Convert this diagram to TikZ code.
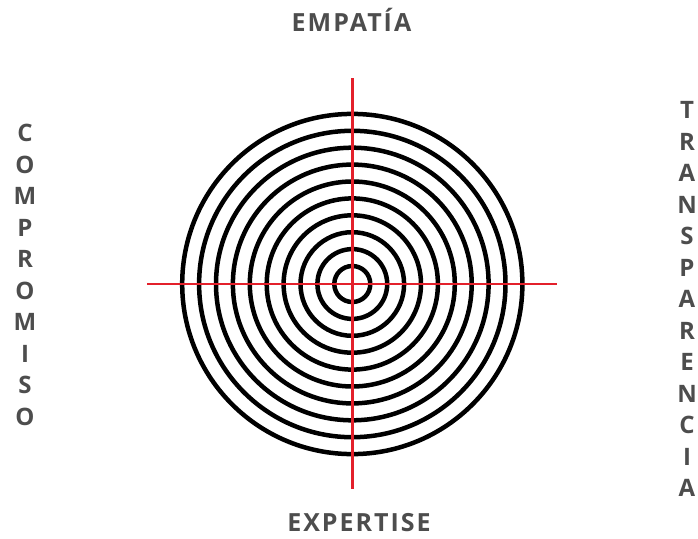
\documentclass[tikz,border=0pt]{standalone}
\usepackage{fontspec}
\setmainfont{Open Sans}
\newfontfamily\spacedfont[LetterSpace=8]{Open Sans}
\usetikzlibrary{positioning}
\definecolor{ink}{HTML}{4D4D4D}
\definecolor{aim}{HTML}{E3202B}
\tikzset{
  axislabel/.style={text=ink,font=\spacedfont\fontsize{25}{25}\selectfont\bfseries,inner sep=0pt},
  stacklabel/.style={text=ink,font=\fontsize{24}{31.5}\selectfont\bfseries,align=center,inner sep=0pt},
  ring/.style={draw=black,line width=4.5pt},
  crossline/.style={draw=aim,line width=2.4pt}
}

\begin{document}
\begin{tikzpicture}[x=1pt,y=-1pt]
\useasboundingbox (0,0) rectangle (698,538);
\coordinate (c) at (352.3,284);
% target
\foreach \k in {0,...,9}
  \draw[ring] (c) circle[radius={18+16.9*\k}];
\coordinate (w) at (147,284);
\coordinate (e) at (557,284);
\coordinate (n) at (352.3,78);
\coordinate (s) at (352.3,489);
\draw[crossline] (w) -- (e);
\draw[crossline] (n) -- (s);
% labels
\node[axislabel,anchor=base] (top) at (351.5,31.7) {EMPATÍA};
\node[axislabel,anchor=base] (bottom) at (359,531.5) {EXPERTISE};
\node[stacklabel] (left) at (25,275) {C\\O\\M\\P\\R\\O\\M\\I\\S\\O};
\node[stacklabel] (right) at (687,299) {T\\R\\A\\N\\S\\P\\A\\R\\E\\N\\C\\I\\A};
\end{tikzpicture}
\end{document}
